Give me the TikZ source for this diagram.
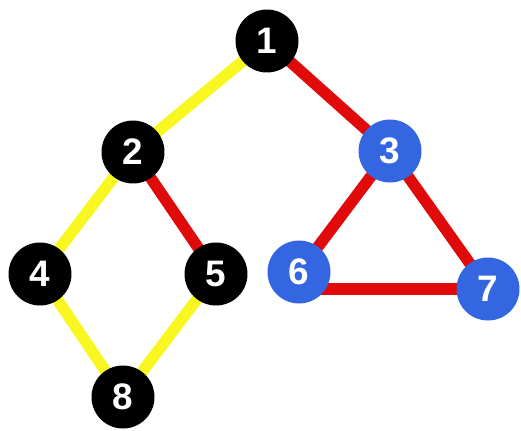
\documentclass[tikz,border=0pt]{standalone}
\usepackage{fontspec}
\setsansfont{Liberation Sans}
\usepackage{tikz}
\usetikzlibrary{backgrounds}
\definecolor{vertexblack}{HTML}{000000}
\definecolor{vertexblue}{HTML}{3366E0}
\definecolor{edgered}{HTML}{E00A0A}
\definecolor{edgeyellow}{HTML}{F8F820}
\begin{document}
\begin{tikzpicture}[x=0.02cm, y=-0.02cm,
  vertex/.style={circle, inner sep=0pt, minimum size=1.26cm, text=white, font=\fontsize{21}{21}\selectfont\sffamily\bfseries},
  blk/.style={vertex, fill=vertexblack},
  blu/.style={vertex, fill=vertexblue},
  redge/.style={line width=6.5pt, edgered},
  yedge/.style={line width=6.5pt, edgeyellow}
]
  \useasboundingbox (0,0) rectangle (521,430);

  \node[blk] (n1) at (267,41) {1};
  \node[blk] (n2) at (133,152) {2};
  \node[blu] (n3) at (390,151) {3};
  \node[blk] (n4) at (40,274) {4};
  \node[blk] (n5) at (216,274) {5};
  \node[blu] (n6) at (299,272) {6};
  \node[blu] (n7) at (488,289) {7};
  \node[blk] (n8) at (123,397) {8};

  \begin{scope}[on background layer]
    \draw[yedge] (n1.center) -- (n2.center);
    \draw[yedge] (n2.center) -- (n4.center);
    \draw[yedge] (n4.center) -- (n8.center);
    \draw[yedge] (n5.center) -- (n8.center);
    \draw[redge] (n1.center) -- (n3.center);
    \draw[redge] (n2.center) -- (n5.center);
    \draw[redge] (n3.center) -- (n6.center);
    \draw[redge] (n3.center) -- (n7.center);
    \draw[redge] (n6.center |- n7.center) -- (n7.center);
  \end{scope}
\end{tikzpicture}
\end{document}
